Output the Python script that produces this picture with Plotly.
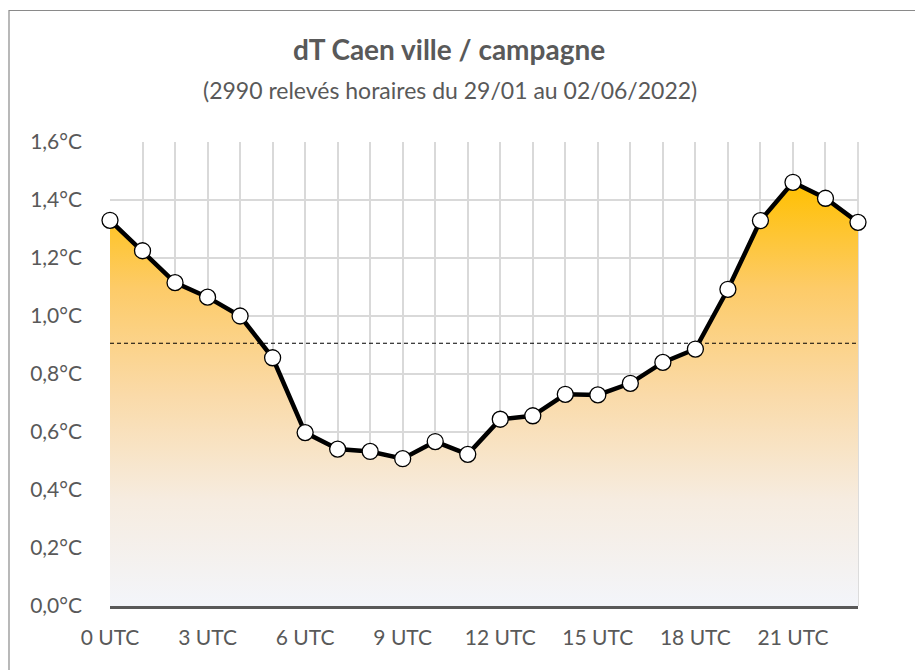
import plotly.graph_objects as go

# Hourly mean temperature difference, city minus countryside (°C)
hours = list(range(24))
dt_values = [1.33, 1.225, 1.115, 1.065, 1.00, 0.856, 0.598, 0.541, 0.533, 0.508,
             0.567, 0.523, 0.644, 0.656, 0.730, 0.728, 0.768, 0.840, 0.886, 1.092,
             1.329, 1.461, 1.406, 1.323]
mean_dt = 0.906

x_tick_vals = [0, 3, 6, 9, 12, 15, 18, 21]
x_tick_text = ["0 UTC", "3 UTC", "6 UTC", "9 UTC", "12 UTC", "15 UTC", "18 UTC", "21 UTC"]
y_tick_vals = [0.0, 0.2, 0.4, 0.6, 0.8, 1.0, 1.2, 1.4, 1.6]
y_tick_text = ["0,0°C", "0,2°C", "0,4°C", "0,6°C", "0,8°C", "1,0°C", "1,2°C", "1,4°C", "1,6°C"]

title_text = "dT Caen ville / campagne"
subtitle_text = "(2990 relevés horaires du 29/01 au 02/06/2022)"

W, H = 915, 670
ML, MR, MT, MB = 110, 57, 142, 64
PW, PH = W - ML - MR, H - MT - MB

def px_x(p):
    return (p - ML) / PW

def px_y(p):
    return (H - MB - p) / PH

FONT = "Lato"
GREY = "#595959"

fig = go.Figure()

# gradient-filled area under the curve
fig.add_trace(go.Scatter(
    x=hours, y=dt_values, mode="none", fill="tozeroy",
    fillgradient=dict(
        type="vertical", start=0, stop=max(dt_values),
        colorscale=[[0.0, "#F3F5FA"], [0.25, "#F6ECE0"], [0.5, "#FADAA8"],
                    [0.75, "#FDCB68"], [1.0, "#FFC000"]],
    ),
    hoverinfo="skip", showlegend=False,
))

# mean line
fig.add_trace(go.Scatter(
    x=[hours[0], hours[-1]], y=[mean_dt, mean_dt], mode="lines",
    line=dict(color="black", width=1.2, dash="4px,3px"),
    hoverinfo="skip", showlegend=False,
))

# hourly curve with markers
fig.add_trace(go.Scatter(
    x=hours, y=dt_values, mode="lines+markers",
    line=dict(color="black", width=4.5),
    marker=dict(size=16, color="white", line=dict(color="black", width=1.3)),
    cliponaxis=False, showlegend=False,
))

fig.update_xaxes(
    range=[0, 23], tickmode="array", tickvals=x_tick_vals, ticktext=x_tick_text,
    showgrid=True, gridcolor="#D9D9D9", gridwidth=1.8,
    minor=dict(dtick=1, tick0=0, showgrid=True, gridcolor="#D9D9D9", gridwidth=1.8),
    showline=True, linecolor="#595959", linewidth=2.5, mirror=False,
    ticks="", ticklabelstandoff=11,
    tickfont=dict(family=FONT, size=21, color=GREY),
    zeroline=False, fixedrange=True,
)
fig.update_yaxes(
    range=[0, 1.6], tickmode="array", tickvals=y_tick_vals, ticktext=y_tick_text,
    showgrid=True, gridcolor="#D9D9D9", gridwidth=1.8,
    showline=False, ticks="", ticklabelstandoff=27,
    tickfont=dict(family=FONT, size=21, color=GREY),
    zeroline=False, fixedrange=True,
)

# chart-area frame (only the left and top edges are within view)
fig.add_shape(type="rect", xref="paper", yref="paper",
              x0=px_x(9), x1=px_x(940), y0=px_y(700), y1=px_y(10.5),
              line=dict(color="#8A8A8A", width=1.2), fillcolor="rgba(0,0,0,0)", layer="above")
# right border of the plot area
fig.add_shape(type="line", xref="paper", yref="paper",
              x0=1, x1=1, y0=0, y1=1, line=dict(color="#D9D9D9", width=1.8), layer="below")

fig.add_annotation(text="<b>" + title_text + "</b>", xref="paper", yref="paper",
                   x=px_x(449), y=px_y(49), showarrow=False, xanchor="center", yanchor="middle",
                   font=dict(family=FONT, size=28, color=GREY))
fig.add_annotation(text=subtitle_text, xref="paper", yref="paper",
                   x=px_x(450), y=px_y(90), showarrow=False, xanchor="center", yanchor="middle",
                   font=dict(family=FONT, size=23, color=GREY))

fig.update_layout(
    width=W, height=H,
    margin=dict(l=ML, r=MR, t=MT, b=MB),
    paper_bgcolor="white", plot_bgcolor="white",
    showlegend=False,
)

fig.write_html("out.html")
